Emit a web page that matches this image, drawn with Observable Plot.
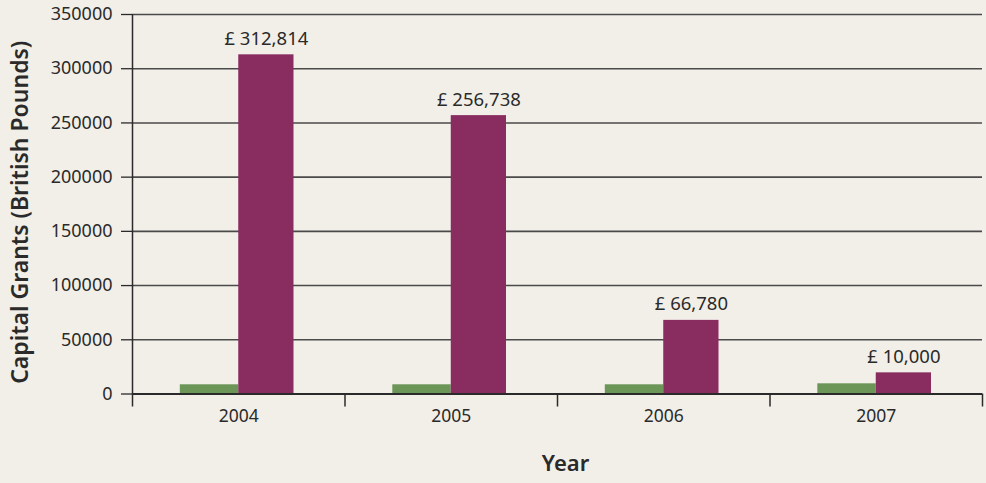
<!DOCTYPE html>
<html>
<head>
<meta charset="utf-8">
<script src="https://cdn.jsdelivr.net/npm/d3@7"></script>
<script src="https://cdn.jsdelivr.net/npm/@observablehq/plot@0.6"></script>
<style>
  html, body { margin: 0; padding: 0; background: #f2efe8; }
  #chart svg { display: block; }
</style>
</head>
<body>
<div id="chart"></div>
<script>
// ---- data ----
const years = [2004, 2005, 2006, 2007];
const seriesNames = ["Series A", "Series B"];
const greenValues = [8500, 8500, 8500, 9400];
const purpleValues = [312814, 256738, 67900, 19500];
const purpleLabels = ["£ 312,814", "£ 256,738", "£ 66,780", "£ 10,000"];
const yTicks = [0, 50000, 100000, 150000, 200000, 250000, 300000, 350000];
const yTitle = "Capital Grants (British Pounds)";
const xTitle = "Year";

const rows = [];
years.forEach((yr, i) => {
  rows.push({year: yr, series: seriesNames[0], value: greenValues[i], x1: yr - 0.275, x2: yr});
  rows.push({year: yr, series: seriesNames[1], value: purpleValues[i], x1: yr, x2: yr + 0.26});
});
const labelRows = years.map((yr, i) => ({year: yr, xc: yr + 0.13, value: purpleValues[i], label: purpleLabels[i]}));
const boundaries = years.map(y => y - 0.5).concat([years[years.length - 1] + 0.5]);

const font = "'Noto Sans', sans-serif";
const ink = "#2a2a2a";
const gridColor = "#4a4a4a";

const chart = Plot.plot({
  width: 986,
  height: 483,
  marginLeft: 132,
  marginRight: 4,
  marginTop: 14,
  marginBottom: 89.5,
  style: {background: "#f2efe8", fontFamily: font, color: ink},
  x: {type: "linear", domain: [boundaries[0], boundaries[boundaries.length - 1]]},
  y: {domain: [0, 350000]},
  color: {type: "ordinal", domain: seriesNames, range: ["#6b9658", "#892c60"]},
  marks: [
    Plot.ruleY(yTicks, {stroke: gridColor, strokeWidth: 1.6}),
    Plot.rectY(rows, {x1: "x1", x2: "x2", y: "value", fill: "series"}),
    Plot.ruleX([boundaries[0]], {y1: 0, y2: 350000, stroke: ink, strokeWidth: 1.5}),
    Plot.ruleY([0], {stroke: ink, strokeWidth: 1.8}),
    Plot.axisY({ticks: yTicks, tickSize: 11, tickPadding: 9, tickFormat: d => String(d),
      label: null, fontSize: 18, stroke: ink, strokeWidth: 1.3, fill: ink}),
    Plot.axisX({ticks: boundaries, tickSize: 13, tickFormat: () => "", label: null, stroke: ink, strokeWidth: 1.5}),
    Plot.axisX({ticks: years, tickSize: 0, tickPadding: 16, tickFormat: d => String(d), label: null,
      fontSize: 17.5, fill: ink}),
    Plot.text(labelRows, {x: "xc", y: "value", text: "label", dy: -16, fontSize: 18.5, fill: ink}),
    Plot.text([yTitle], {frameAnchor: "left", textAnchor: "middle", rotate: -90, dx: -112, dy: 8, fontSize: 23, fontWeight: 600, fill: ink}),
    Plot.text([xTitle], {frameAnchor: "bottom", dx: 8, dy: 77, fontSize: 22, fontWeight: 600, fill: ink})
  ]
});
document.getElementById("chart").appendChild(chart);
</script>
</body>
</html>
